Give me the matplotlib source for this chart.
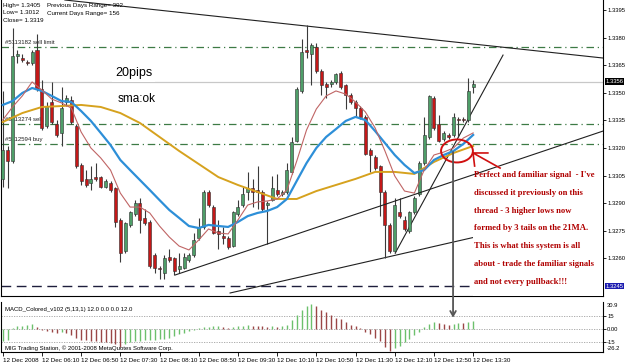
import matplotlib
matplotlib.use('Agg')
import matplotlib.pyplot as plt
from matplotlib.patches import Rectangle, Ellipse, ConnectionPatch

plt.rcParams['font.family'] = ['Liberation Sans', 'DejaVu Sans']

W, H = 625, 363

# ---------------- data (EURUSD M5, 12 Dec 2008) ----------------
opens = [1.3303, 1.3319, 1.3313, 1.3370, 1.3369, 1.3367, 1.3366, 1.3373, 1.3352, 1.3332,
         1.3345, 1.3333, 1.3328, 1.3345, 1.3346, 1.3332, 1.3311, 1.3303, 1.3301, 1.3304,
         1.3304, 1.3299, 1.3301, 1.3298, 1.3281, 1.3264, 1.3278, 1.3284, 1.3290, 1.3282,
         1.3280, 1.3262, 1.3255, 1.3252, 1.3261, 1.3260, 1.3254, 1.3255, 1.3259, 1.3262,
         1.3271, 1.3277, 1.3296, 1.3288, 1.3275, 1.3272, 1.3271, 1.3267, 1.3284, 1.3289,
         1.3296, 1.3298, 1.3297, 1.3296, 1.3289, 1.3292, 1.3297, 1.3295, 1.3296, 1.3307,
         1.3324, 1.3351, 1.3373, 1.3371, 1.3375, 1.3362, 1.3355, 1.3355, 1.3356, 1.3361,
         1.3354, 1.3349, 1.3345, 1.3342, 1.3337, 1.3319, 1.3315, 1.3310, 1.3296, 1.3278,
         1.3264, 1.3285, 1.3281, 1.3275, 1.3285, 1.3295, 1.3312, 1.3326, 1.3347, 1.3333,
         1.3325, 1.3327, 1.3327, 1.3336, 1.3336, 1.3335, 1.3353]
highs = [1.3351, 1.3321, 1.3385, 1.3373, 1.3371, 1.3368, 1.3373, 1.3382, 1.3357, 1.3345,
         1.3356, 1.3335, 1.3353, 1.3349, 1.3348, 1.3333, 1.3312, 1.3308, 1.3310, 1.3312,
         1.3305, 1.3303, 1.3302, 1.3299, 1.3282, 1.3280, 1.3286, 1.3292, 1.3293, 1.3287,
         1.3281, 1.3263, 1.3256, 1.3262, 1.3265, 1.3261, 1.3263, 1.3263, 1.3263, 1.3274,
         1.3282, 1.3297, 1.3297, 1.3289, 1.3281, 1.3277, 1.3272, 1.3286, 1.3292, 1.3299,
         1.3307, 1.3303, 1.3310, 1.3297, 1.3291, 1.3305, 1.3306, 1.3297, 1.3312, 1.3326,
         1.3353, 1.3379, 1.3387, 1.3377, 1.3377, 1.3363, 1.3356, 1.3357, 1.3361, 1.3362,
         1.3355, 1.3350, 1.3346, 1.3343, 1.3338, 1.3320, 1.3316, 1.3311, 1.3297, 1.3279,
         1.3293, 1.3293, 1.3283, 1.3286, 1.3294, 1.3313, 1.3337, 1.3349, 1.3348, 1.3338,
         1.3329, 1.3328, 1.3339, 1.3337, 1.3337, 1.3358, 1.3357]
lows = [1.3299, 1.3298, 1.3312, 1.3366, 1.3367, 1.3365, 1.3365, 1.3351, 1.3330, 1.3331,
        1.3333, 1.3326, 1.3321, 1.3343, 1.3333, 1.3309, 1.3300, 1.3299, 1.3297, 1.3302,
        1.3298, 1.3298, 1.3296, 1.3277, 1.3258, 1.3263, 1.3277, 1.3283, 1.3274, 1.3278,
        1.3255, 1.3252, 1.3249, 1.3249, 1.3258, 1.3251, 1.3252, 1.3254, 1.3258, 1.3261,
        1.3270, 1.3276, 1.3288, 1.3273, 1.3265, 1.3268, 1.3265, 1.3266, 1.3283, 1.3288,
        1.3292, 1.3288, 1.3287, 1.3286, 1.3268, 1.3291, 1.3294, 1.3294, 1.3295, 1.3306,
        1.3323, 1.3350, 1.3369, 1.3354, 1.3361, 1.3349, 1.3347, 1.3353, 1.3355, 1.3352,
        1.3341, 1.3344, 1.3337, 1.3336, 1.3316, 1.3307, 1.3308, 1.3283, 1.3260, 1.3263,
        1.3263, 1.3282, 1.3275, 1.3274, 1.3284, 1.3294, 1.3311, 1.3325, 1.3330, 1.3323,
        1.3324, 1.3325, 1.3326, 1.3326, 1.3334, 1.3334, 1.3350]
closes = [1.3319, 1.3313, 1.3370, 1.3371, 1.3368, 1.3366, 1.3372, 1.3352, 1.3331, 1.3343,
          1.3334, 1.3327, 1.3342, 1.3347, 1.3334, 1.3310, 1.3302, 1.3300, 1.3303, 1.3303,
          1.3299, 1.3302, 1.3297, 1.3280, 1.3263, 1.3279, 1.3285, 1.3290, 1.3281, 1.3279,
          1.3256, 1.3255, 1.3254, 1.3260, 1.3259, 1.3253, 1.3256, 1.3261, 1.3262, 1.3270,
          1.3277, 1.3296, 1.3289, 1.3274, 1.3273, 1.3271, 1.3266, 1.3285, 1.3288, 1.3295,
          1.3298, 1.3296, 1.3296, 1.3287, 1.3290, 1.3298, 1.3295, 1.3296, 1.3308, 1.3323,
          1.3352, 1.3372, 1.3372, 1.3376, 1.3362, 1.3354, 1.3353, 1.3356, 1.3360, 1.3353,
          1.3349, 1.3345, 1.3342, 1.3337, 1.3317, 1.3316, 1.3309, 1.3296, 1.3278, 1.3264,
          1.3289, 1.3283, 1.3276, 1.3285, 1.3293, 1.3312, 1.3327, 1.3348, 1.3331, 1.3324,
          1.3328, 1.3326, 1.3337, 1.3335, 1.3335, 1.3351, 1.3355]

ma_fast_bars = list(range(0, 97, 2))
ma_fast = [1.33352, 1.33423, 1.33483, 1.33559, 1.33515, 1.33466, 1.33445, 1.33417, 1.33287, 1.33200,
           1.33146, 1.33080, 1.32955, 1.32879, 1.32879, 1.32847, 1.32776, 1.32716, 1.32667, 1.32646,
           1.32700, 1.32760, 1.32738, 1.32733, 1.32809, 1.32890, 1.32907, 1.32912, 1.32923, 1.32972,
           1.33129, 1.33298, 1.33412, 1.33483, 1.33510, 1.33493, 1.33450, 1.33396, 1.33309, 1.33184,
           1.33048, 1.32966, 1.32955, 1.33080, 1.33162, 1.33178, 1.33200, 1.33254, 1.33282]
ma21_bars = list(range(0, 97, 2))
ma21 = [1.33434, 1.33455, 1.33499, 1.33526, 1.33510, 1.33483, 1.33455, 1.33450, 1.33401, 1.33347,
        1.33282, 1.33216, 1.33135, 1.33080, 1.33026, 1.32972, 1.32917, 1.32863, 1.32820, 1.32776,
        1.32765, 1.32782, 1.32776, 1.32771, 1.32798, 1.32830, 1.32847, 1.32858, 1.32879, 1.32923,
        1.33021, 1.33118, 1.33200, 1.33260, 1.33303, 1.33347, 1.33369, 1.33352, 1.33292, 1.33227,
        1.33162, 1.33108, 1.33064, 1.33080, 1.33135, 1.33162, 1.33184, 1.33222, 1.33271]
sma_bars = list(range(0, 97, 4))
sma = [1.33341, 1.33390, 1.33423, 1.33428, 1.33434, 1.33423, 1.33390, 1.33336, 1.33260, 1.33184,
       1.33113, 1.33042, 1.32999, 1.32961, 1.32923, 1.32923, 1.32966, 1.32999, 1.33032, 1.33070,
       1.33070, 1.33059, 1.33124, 1.33173, 1.33211]

macd = [-14, -12, 1, 3, 4, 5, 6, 2, -1, -2,
        -3, -4, -3, -5, -7, -10, -12, -13, -13.5, -14,
        -14.5, -15, -15.5, -17, -20, -17, -15, -14, -13.5, -13,
        -12.5, -12, -11.5, -11, -10, -8, -6, -4, -2, -1,
        1, 2, 2.5, 3, 3.5, 2, 1.5, 2, 3, 4,
        4.5, 4, 3.5, 3, 2.5, 3, 2.5, 3, 5, 10,
        16, 22, 26, 29, 26, 22, 19, 16, 13, 11,
        8, 5, 3, 1, -3, -6, -10, -14, -20, -25,
        -22, -19, -15, -11, -7, -3, 2, 6, 8, 7,
        6, 5, 6, 7, 6.5, 8, 9]

price_ticks = [1.3395, 1.3380, 1.3365, 1.3350, 1.3335, 1.3320, 1.3305, 1.3290, 1.3275, 1.3260]
bid_price = 1.3356
order_levels = [1.3375, 1.3333, 1.3322]
order_labels = ['#5113182 sell limit', '#5113274 sell', '#5112594 buy']
stop_level = 1.3245
date_bars = list(range(0, 97, 8))
date_labels = ['12 Dec 2008', '12 Dec 06:10', '12 Dec 06:50', '12 Dec 07:30', '12 Dec 08:10',
               '12 Dec 08:50', '12 Dec 09:30', '12 Dec 10:10', '12 Dec 10:50', '12 Dec 11:30',
               '12 Dec 12:10', '12 Dec 12:50', '12 Dec 13:30']

# hand-drawn objects (bar index, price)
top_line = [(61.9, 1.33863), (122.5, 1.33689)]
trend_a = [(35.2, 1.32510), (122.5, 1.33292)]
trend_b = [(46.4, 1.32412), (96.4, 1.32716)]
trend_steep = [(80.1, 1.32629), (102.1, 1.33705)]

note_lines = ["Perfect and familiar signal  - I've",
              "discussed it previously on this",
              "thread - 3 higher lows now",
              "formed by 3 tails on the 21MA.",
              "This is what this system is all",
              "about - trade the familiar signals",
              "and not every pullback!!!"]

# ---------------- figure ----------------
def fx(x):
    return x / W


def fy(y):
    return 1 - y / H


fig = plt.figure(figsize=(W / 100, H / 100), dpi=100)
fig.patch.set_facecolor('white')
ax = fig.add_axes([fx(1), fy(296), fx(603) - fx(1), fy(0) - fy(296)])
ax2 = fig.add_axes([fx(1), fy(352), fx(603) - fx(1), fy(302) - fy(352)])

XMIN, XMAX = -0.35, 122.5
YMIN, YMAX = 1.323957, 1.340043
for a in (ax, ax2):
    a.set_xlim(XMIN, XMAX)
    a.set_facecolor('white')
    for s in a.spines.values():
        s.set_color('black')
        s.set_linewidth(0.8)
    a.spines['top'].set_visible(False)

ax.set_ylim(YMIN, YMAX)

# horizontal levels
ax.axhline(bid_price, color='#c8c8c8', lw=0.9, zorder=1)
for lv in order_levels:
    ax.axhline(lv, color='#3d7a45', lw=0.9, ls=(0, (6, 3, 1, 3)), zorder=1)
ax.axhline(stop_level, color='#1e1e3c', lw=1.0, ls=(0, (7, 4)), zorder=1)

# trend lines
ax.axline(top_line[0], top_line[1], color='#202020', lw=0.8, zorder=2)
for ln in (trend_b, trend_steep):
    ax.plot([ln[0][0], ln[1][0]], [ln[0][1], ln[1][1]], color='#202020', lw=0.8, zorder=2)

# candles
xs = list(range(len(opens)))
for i in xs:
    o, h, l, c = opens[i], highs[i], lows[i], closes[i]
    up = c >= o
    ax.vlines(i, l, h, color='#3a3a3a', lw=0.8, zorder=3)
    body = abs(c - o)
    if body < 0.00003:
        body = 0.00003
    ax.bar(i, body, bottom=min(o, c), width=0.62,
           color='#4e9e68' if up else '#c41818', edgecolor='#303030', lw=0.4, zorder=4)

# moving averages
ax.plot(sma_bars, sma, color='#d6a21e', lw=1.4, zorder=5)
ax.plot(ma21_bars, ma21, color='#2d8fd8', lw=1.6, zorder=5)
ax.plot(ma_fast_bars, ma_fast, color='#c06565', lw=0.8, zorder=5)

# note box
ax.add_patch(Rectangle((96.0, YMIN), XMAX - 96.0, 1.33080 - YMIN,
                       facecolor='white', edgecolor='none', zorder=6))
ax.plot([trend_a[0][0], trend_a[1][0]], [trend_a[0][1], trend_a[1][1]], color='#202020', lw=0.8, zorder=7)

# ellipse and red arrow
ax.add_patch(Ellipse((92.7, 1.33184), 6.5, 0.00125, fill=False, edgecolor='#d01010', lw=1.4, zorder=8))
ax.plot([101.5, 95.98, 99.0], [1.33091, 1.33173, 1.33173], color='#d01010', lw=1.2, zorder=8)
ax.plot([95.98, 96.3], [1.33173, 1.33102], color='#d01010', lw=1.2, zorder=8)

# price axis
ax.yaxis.tick_right()
ax.set_yticks(price_ticks)
ax.set_yticklabels(['%.4f' % p for p in price_ticks])
ax.tick_params(axis='y', length=2, width=0.6, pad=1.0, labelsize=4.2, colors='black')
ax.set_xticks([])
ax.text(1.004, bid_price, '%.4f' % bid_price, transform=ax.get_yaxis_transform(), ha='left', va='center',
        fontsize=4.2, color='white', zorder=10, clip_on=False,
        bbox=dict(boxstyle='square,pad=0.15', fc='black', ec='none'))
ax.text(1.004, stop_level, '%.4f' % stop_level, transform=ax.get_yaxis_transform(), ha='left', va='center',
        fontsize=4.2, color='white', zorder=10, clip_on=False,
        bbox=dict(boxstyle='square,pad=0.15', fc='#1c1cb0', ec='none'))

# order labels
for lv, t in zip(order_levels, order_labels):
    ax.text(0.006, lv + 0.00012, t, transform=ax.get_yaxis_transform(), fontsize=4.3,
            color='#202020', va='bottom', ha='left', zorder=2)

# header text
fig.text(fx(3), fy(5), 'High= 1.3405', fontsize=4.5, va='center')
fig.text(fx(47), fy(5), 'Previous Days Range= 392', fontsize=4.5, va='center')
fig.text(fx(3), fy(13), 'Low= 1.3012', fontsize=4.5, va='center')
fig.text(fx(47), fy(13), 'Current Days Range= 156', fontsize=4.5, va='center')
fig.text(fx(3), fy(21), 'Close= 1.3319', fontsize=4.5, va='center')

# 20pips / sma:ok labels
fig.text(fx(115), fy(73), '20pips', fontsize=9, va='center', ha='left',
         bbox=dict(boxstyle='square,pad=0.25', fc='white', ec='none'), zorder=9)
fig.text(fx(118), fy(99), 'sma:ok', fontsize=8.5, va='center', ha='left',
         bbox=dict(boxstyle='square,pad=0.2', fc='white', ec='none'), zorder=9)

# note text
for k, t in enumerate(note_lines):
    fig.text(fx(474), fy(175 + 17.8 * k), t, fontsize=6.2, family=['Liberation Serif', 'DejaVu Serif'],
             fontweight='bold', color='#b00000', va='center', ha='left', zorder=12)

# MACD pane
ax2.set_ylim(-26.2, 30.9)
for lv in (15, 0, -15):
    ax2.axhline(lv, color='#a0a0a0', lw=0.6, ls=(0, (1.5, 1.5)), zorder=1)
prev = None
for i, v in enumerate(macd):
    col = '#6cc06c' if (prev is None or v >= prev) else '#9a4646'
    ax2.vlines(i, 0, v, color=col, lw=1.0, zorder=3)
    prev = v
ax2.yaxis.tick_right()
ax2.set_yticks([15, 0, -15])
ax2.set_yticklabels(['15', '0.00', '-15'])
ax2.tick_params(axis='y', length=2, width=0.6, pad=1.0, labelsize=4.2)
ax2.text(1.006, 0.93, '30.9', transform=ax2.transAxes, fontsize=4.2, va='center', ha='left')
ax2.text(1.006, 0.06, '-26.2', transform=ax2.transAxes, fontsize=4.2, va='center', ha='left')
ax2.text(0.006, 0.84, 'MACD_Colored_v102 (5,13,1) 12.0 0.0 0.0 12.0', transform=ax2.transAxes,
         fontsize=4.3, va='center', ha='left')
ax2.text(0.006, 0.08, 'MIG Trading Station, \u00a9 2001-2008 MetaQuotes Software Corp.',
         transform=ax2.transAxes, fontsize=4.3, va='center', ha='left')
ax2.set_xticks(date_bars)
ax2.set_xticklabels(date_labels)
ax2.tick_params(axis='x', length=3, width=0.6, pad=1.5, labelsize=4.5)
for lab in ax2.get_xticklabels():
    lab.set_horizontalalignment('left')

# vertical pointer line into MACD pane
con = ConnectionPatch(xyA=(91.9, 1.33178), coordsA=ax.transData,
                      xyB=(91.9, 13.0), coordsB=ax2.transData,
                      arrowstyle='->,head_length=0.35,head_width=0.2', color='#555555', lw=1.3, zorder=20)
fig.add_artist(con)

fig.savefig('out.png', dpi=100, facecolor='white')
